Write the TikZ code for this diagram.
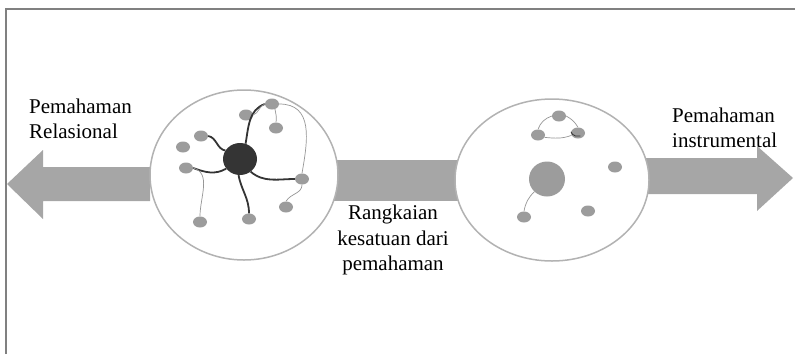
\documentclass[tikz,border=0pt]{standalone}
\usepackage{fontspec}
\setmainfont{Liberation Serif}
\usepackage{tikz}
\usetikzlibrary{shapes.geometric}

\definecolor{arrowgray}{RGB}{166,166,166}
\definecolor{dotgray}{RGB}{156,156,156}
\definecolor{ringgray}{RGB}{178,178,178}
\definecolor{hubdark}{RGB}{52,52,52}
\definecolor{linkgray}{RGB}{150,150,150}
\definecolor{framegray}{RGB}{128,128,128}

\tikzset{
  dot/.style={ellipse, fill=dotgray, minimum width=14pt, minimum height=11pt, inner sep=0pt},
  hub/.style={ellipse, minimum width=34pt, minimum height=32pt, inner sep=0pt},
  ring/.style={fill=white, draw=ringgray, line width=1.5pt},
  tie/.style={draw=hubdark, line width=1.8pt},
  link/.style={draw=linkgray, line width=0.7pt},
  label/.style={font=\fontsize{21}{25.5}\selectfont, text=black, inner sep=0pt}
}

\begin{document}
\begin{tikzpicture}[x=1pt, y=-1pt]
        \useasboundingbox (0,0) rectangle (795,354);                        %
        \draw [framegray, line width=2pt] (6,354) -- (6,9) -- (795,9);       %frame
        \fill [arrowgray] (150,167) -- (43,167) -- (43,150) -- (7,184)
                          -- (43,219) -- (43,201) -- (150,201) -- cycle;    %left arrow
        \fill [arrowgray] (320,160) rectangle (470,201);                    %middle bar
        \fill [arrowgray] (640,158) -- (757,158) -- (757,146) -- (793,178)
                          -- (757,211) -- (757,194) -- (640,194) -- cycle;  %right arrow
        \draw [ring] (244,175) ellipse [x radius=94, y radius=85];          %relasional
        \draw [ring] (552,180) ellipse [x radius=97, y radius=81];          %instrumental
        % left circle
        \node [hub, fill=hubdark] (hubL) at (240,159) {};
        \node [dot] (l1)  at (272,104) {};
        \node [dot] (l2)  at (246,115) {};
        \node [dot] (l3)  at (276,128) {};
        \node [dot] (l4)  at (201,136) {};
        \node [dot] (l5)  at (183,147) {};
        \node [dot] (l6)  at (186,168) {};
        \node [dot] (l7)  at (302,179) {};
        \node [dot] (l8)  at (286,207) {};
        \node [dot] (l9)  at (200,222) {};
        \node [dot] (l10) at (249,219) {};
        \draw [tie]  (hubL.70)  to [out=80,  in=200] (l1.west);             %
        \draw [tie]  (hubL.150) to [out=170, in=-10] (l4.east);             %
        \draw [tie]  (hubL.215) to [out=210, in=-20] (l6.east);             %
        \draw [tie]  (hubL.-50) to [out=-40, in=180] (l7.west);             %
        \draw [tie]  (hubL.-95) to [out=-80, in=90]  (l10.north);           %
        \draw [link] (l2.east)  to [out=20,  in=200] (l1.west);             %
        \draw [link] (l1.-60)   to [out=-80, in=80]  (l3.north);            %
        \draw [link] (l1.east)  to [out=0,   in=80, looseness=1.2] (l7.north); %
        \draw [link] (l7.south) to [out=-90, in=60]  (l8.north);            %
        \draw [link] (l6.east)  to [out=-15, in=90]  (l9.north);            %
        % right circle
        \node [hub, fill=dotgray, minimum width=36pt, minimum height=35pt] (hubR) at (547,179) {};
        \node [dot] (r1) at (559,116) {};
        \node [dot] (r2) at (538,135) {};
        \node [dot] (r3) at (578,133) {};
        \node [dot] (r4) at (615,167) {};
        \node [dot] (r5) at (588,211) {};
        \node [dot] (r6) at (524,217) {};
        \draw [link] (r1.west)  to [out=200, in=70]  (r2.north);            %
        \draw [link] (r1.east)  to [out=-30, in=120] (r3.north);            %
        \draw [link] (r2.-20)   to [out=-5,  in=200] (r3.200);              %
        \draw [link] (hubR.225) to [out=225, in=80]  (r6.north);            %
        \draw [hubdark, line width=0.8pt] (r3.170) arc [start angle=170, end angle=70, x radius=7, y radius=5.5]; %
        % texts
        \node [label, anchor=west, align=left]  (relasional) at (29,119)  {Pemahaman\\Relasional};
        \node [label, anchor=west, align=left]  (instrumen)  at (672,128) {Pemahaman\\instrumental};
        \node [label, align=center]             (rangkaian)  at (393,240) {Rangkaian\\kesatuan dari\\pemahaman};
       \end{tikzpicture}
\end{document}
